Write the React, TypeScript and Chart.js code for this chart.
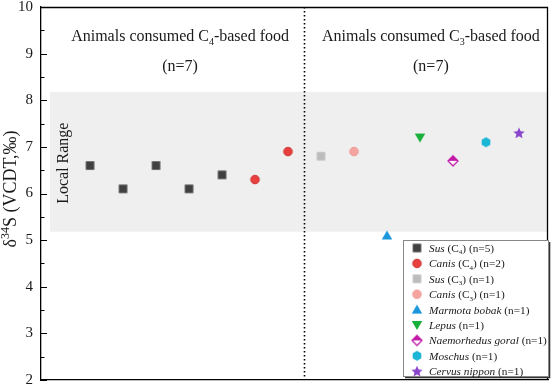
import React, { useEffect, useRef } from 'react';
import { Chart, registerables } from 'chart.js';

Chart.register(...registerables);

const SERIF = "'Liberation Serif', serif";
Chart.defaults.font.family = SERIF;

// ---- data ----
const susC4X = [1, 2, 3, 4, 5];
const susC4 = [6.6, 6.1, 6.6, 6.1, 6.4];
const canisC4X = [6, 7];
const canisC4 = [6.3, 6.9];
const susC3X = [8];
const susC3 = [6.8];
const canisC3X = [9];
const canisC3 = [6.9];
const marmotaX = [10];
const marmota = [5.1];
const lepusX = [11];
const lepus = [7.2];
const naemorhedusX = [12];
const naemorhedus = [6.7];
const moschusX = [13];
const moschus = [7.1];
const cervusX = [14];
const cervus = [7.3];

const Y_MIN = 2;
const Y_MAX = 10;
const LOCAL_RANGE = [5.18, 8.18];
const DIVIDER_X = 7.5;

type Part = { t: string; it?: boolean; sub?: boolean; sup?: boolean };

const legendNames: Part[][] = [
  [{ t: 'Sus', it: true }, { t: ' (C' }, { t: '4', sub: true }, { t: ') (n=5)' }],
  [{ t: 'Canis', it: true }, { t: ' (C' }, { t: '4', sub: true }, { t: ') (n=2)' }],
  [{ t: 'Sus', it: true }, { t: ' (C' }, { t: '3', sub: true }, { t: ') (n=1)' }],
  [{ t: 'Canis', it: true }, { t: ' (C' }, { t: '3', sub: true }, { t: ') (n=1)' }],
  [{ t: 'Marmota bobak', it: true }, { t: ' (n=1)' }],
  [{ t: 'Lepus', it: true }, { t: ' (n=1)' }],
  [{ t: 'Naemorhedus goral', it: true }, { t: ' (n=1)' }],
  [{ t: 'Moschus', it: true }, { t: ' (n=1)' }],
  [{ t: 'Cervus nippon', it: true }, { t: ' (n=1)' }],
];

const leftTitle: Part[] = [{ t: 'Animals consumed C' }, { t: '4', sub: true }, { t: '-based food' }];
const rightTitle: Part[] = [{ t: 'Animals consumed C' }, { t: '3', sub: true }, { t: '-based food' }];
const countLabel: Part[] = [{ t: '(n=7)' }];
const yTitle: Part[] = [{ t: 'δ' }, { t: '34', sup: true }, { t: 'S (VCDT,‰)' }];

function makeMarker(kind: string, fill: string, stroke: string, size: number): HTMLCanvasElement {
  const pad = 2;
  const d = Math.ceil(size + pad * 2);
  const c = document.createElement('canvas');
  c.width = d;
  c.height = d;
  const g = c.getContext('2d')!;
  const cx = d / 2;
  const cy = d / 2;
  const r = size / 2;
  g.fillStyle = fill;
  g.strokeStyle = stroke;
  g.lineWidth = 1;
  g.beginPath();
  if (kind === 'square') {
    g.rect(cx - r, cy - r, size, size);
    g.fill();
  } else if (kind === 'circle') {
    g.arc(cx, cy, r, 0, Math.PI * 2);
    g.fill();
    g.stroke();
  } else if (kind === 'triUp') {
    g.moveTo(cx, cy - r);
    g.lineTo(cx + r * 1.05, cy + r * 0.8);
    g.lineTo(cx - r * 1.05, cy + r * 0.8);
    g.closePath();
    g.fill();
  } else if (kind === 'triDown') {
    g.moveTo(cx, cy + r);
    g.lineTo(cx + r * 1.05, cy - r * 0.8);
    g.lineTo(cx - r * 1.05, cy - r * 0.8);
    g.closePath();
    g.fill();
  } else if (kind === 'diamondHalf') {
    g.moveTo(cx, cy - r);
    g.lineTo(cx + r, cy);
    g.lineTo(cx, cy + r);
    g.lineTo(cx - r, cy);
    g.closePath();
    g.fillStyle = '#ffffff';
    g.fill();
    g.lineWidth = 1.3;
    g.stroke();
    g.beginPath();
    g.moveTo(cx, cy - r);
    g.lineTo(cx + r, cy);
    g.lineTo(cx - r, cy);
    g.closePath();
    g.fillStyle = fill;
    g.fill();
  } else if (kind === 'hexagon') {
    for (let i = 0; i < 6; i++) {
      const a = Math.PI / 6 + (i * Math.PI) / 3;
      const px = cx + r * Math.cos(a);
      const py = cy + r * Math.sin(a);
      if (i === 0) g.moveTo(px, py);
      else g.lineTo(px, py);
    }
    g.closePath();
    g.fill();
  } else if (kind === 'star') {
    for (let i = 0; i < 10; i++) {
      const a = -Math.PI / 2 + (i * Math.PI) / 5;
      const rr = i % 2 === 0 ? r : r * 0.45;
      const px = cx + rr * Math.cos(a);
      const py = cy + rr * Math.sin(a) + 0.5;
      if (i === 0) g.moveTo(px, py);
      else g.lineTo(px, py);
    }
    g.closePath();
    g.fill();
  }
  return c;
}

function partsFont(p: Part, size: number) {
  const s = p.sub || p.sup ? Math.round(size * 0.64) : size;
  return `${p.it ? 'italic ' : ''}${s}px ${SERIF}`;
}

function measureRich(ctx: CanvasRenderingContext2D, parts: Part[], size: number) {
  let w = 0;
  for (const p of parts) {
    ctx.font = partsFont(p, size);
    w += ctx.measureText(p.t).width;
  }
  return w;
}

function drawRich(
  ctx: CanvasRenderingContext2D,
  parts: Part[],
  x: number,
  y: number,
  size: number,
  align: 'left' | 'center',
  color: string,
) {
  ctx.save();
  ctx.textAlign = 'left';
  ctx.textBaseline = 'alphabetic';
  ctx.fillStyle = color;
  let cx = x;
  if (align === 'center') cx = x - measureRich(ctx, parts, size) / 2;
  for (const p of parts) {
    ctx.font = partsFont(p, size);
    let dy = 0;
    if (p.sub) dy = size * 0.22;
    if (p.sup) dy = -size * 0.38;
    ctx.fillText(p.t, cx, y + dy);
    cx += ctx.measureText(p.t).width;
  }
  ctx.restore();
}

const DARK = '#404040';
const markers = {
  susC4: makeMarker('square', DARK, DARK, 8.5),
  canisC4: makeMarker('circle', '#e8403e', '#cc2a2a', 8.5),
  susC3: makeMarker('square', '#bcbcbc', '#bcbcbc', 8.5),
  canisC3: makeMarker('circle', '#f5a4a0', '#ee9590', 8.5),
  marmota: makeMarker('triUp', '#1c97dc', '#1c97dc', 10),
  lepus: makeMarker('triDown', '#17b03a', '#17b03a', 10),
  naemorhedus: makeMarker('diamondHalf', '#c21aa6', '#c21aa6', 10),
  moschus: makeMarker('hexagon', '#1bb5d6', '#1bb5d6', 10),
  cervus: makeMarker('star', '#8a44cc', '#8a44cc', 12),
};
const legendMarkers = [
  markers.susC4,
  markers.canisC4,
  markers.susC3,
  markers.canisC3,
  markers.marmota,
  markers.lepus,
  markers.naemorhedus,
  markers.moschus,
  markers.cervus,
];

function pts(xs: number[], ys: number[]) {
  return xs.map((x, i) => ({ x, y: ys[i] }));
}

const decorPlugin = {
  id: 'decor',
  beforeDatasetsDraw(chart: any) {
    const { ctx, chartArea } = chart;
    const xs = chart.scales.x;
    const ys = chart.scales.y;
    ctx.save();
    const bx0 = xs.getPixelForValue(-0.21);
    const by0 = ys.getPixelForValue(LOCAL_RANGE[1]);
    const by1 = ys.getPixelForValue(LOCAL_RANGE[0]);
    ctx.fillStyle = '#efefef';
    ctx.fillRect(bx0, by0, chartArea.right - 1 - bx0, by1 - by0);
    const dx = Math.round(xs.getPixelForValue(DIVIDER_X)) + 0.5;
    ctx.strokeStyle = '#000';
    ctx.lineWidth = 1.6;
    ctx.setLineDash([1.6, 2.4]);
    ctx.beginPath();
    ctx.moveTo(dx, chartArea.top);
    ctx.lineTo(dx, chartArea.bottom);
    ctx.stroke();
    ctx.setLineDash([]);
    const t1 = ys.getPixelForValue(9.27);
    const t2 = ys.getPixelForValue(8.63);
    drawRich(ctx, leftTitle, xs.getPixelForValue(3.73), t1, 16, 'center', '#1a1a1a');
    drawRich(ctx, countLabel, xs.getPixelForValue(3.73), t2, 16, 'center', '#1a1a1a');
    drawRich(ctx, rightTitle, xs.getPixelForValue(11.33), t1, 16, 'center', '#1a1a1a');
    drawRich(ctx, countLabel, xs.getPixelForValue(11.33), t2, 16, 'center', '#1a1a1a');
    ctx.save();
    ctx.translate(xs.getPixelForValue(0.2), ys.getPixelForValue(6.65));
    ctx.rotate(-Math.PI / 2);
    ctx.font = `16px ${SERIF}`;
    ctx.fillStyle = '#1a1a1a';
    ctx.textAlign = 'center';
    ctx.textBaseline = 'middle';
    ctx.fillText('Local Range', 0, 0);
    ctx.restore();
    ctx.restore();
  },
  afterDraw(chart: any) {
    const { ctx, chartArea } = chart;
    const ys = chart.scales.y;
    ctx.save();
    ctx.strokeStyle = '#000';
    ctx.lineWidth = 1.3;
    ctx.beginPath();
    ctx.moveTo(chartArea.left, chartArea.top + 0.5);
    ctx.lineTo(chartArea.right - 0.5, chartArea.top + 0.5);
    ctx.lineTo(chartArea.right - 0.5, chartArea.bottom);
    ctx.stroke();
    ctx.lineWidth = 1;
    for (const t of ys.ticks) {
      const py = Math.round(ys.getPixelForValue(t.value)) + 0.5;
      const major = Math.abs(t.value - Math.round(t.value)) < 1e-6;
      const len = major ? 6 : 3.5;
      ctx.beginPath();
      ctx.moveTo(chartArea.left, py);
      ctx.lineTo(chartArea.left + len, py);
      ctx.stroke();
    }
    ctx.save();
    ctx.translate(16, 189);
    ctx.rotate(-Math.PI / 2);
    drawRich(ctx, yTitle, 0, 0, 18, 'center', '#1a1a1a');
    ctx.restore();
    const lx = 403.5;
    const ly = 240.5;
    const lw = 145;
    const lh = 136;
    ctx.fillStyle = '#ffffff';
    ctx.fillRect(lx, ly, lw, lh);
    ctx.strokeStyle = '#333';
    ctx.lineWidth = 1.6;
    ctx.beginPath();
    ctx.moveTo(lx + 1.5, ly + lh + 1);
    ctx.lineTo(lx + lw + 1, ly + lh + 1);
    ctx.lineTo(lx + lw + 1, ly + 1.5);
    ctx.stroke();
    ctx.strokeStyle = '#888';
    ctx.lineWidth = 1;
    ctx.strokeRect(lx, ly, lw, lh);
    legendNames.forEach((parts, i) => {
      const cy = 248 + i * 15.4;
      const m = legendMarkers[i];
      ctx.drawImage(m, 417 - m.width / 2, cy - m.height / 2);
      drawRich(ctx, parts, 429, cy + 4, 11.3, 'left', '#1a1a1a');
    });
    ctx.restore();
  },
};

export default function App() {
  const ref = useRef<HTMLCanvasElement>(null);
  useEffect(() => {
    document.body.style.margin = '0';
    const canvas = ref.current!;
    const mk = (label: string, xs: number[], ys: number[], style: HTMLCanvasElement) => ({
      label,
      data: pts(xs, ys),
      pointStyle: style,
      pointRadius: 5,
      pointHoverRadius: 5,
      showLine: false,
    });
    const chart = new Chart(canvas, {
      type: 'scatter',
      data: {
        datasets: [
          mk('Sus (C4)', susC4X, susC4, markers.susC4),
          mk('Canis (C4)', canisC4X, canisC4, markers.canisC4),
          mk('Sus (C3)', susC3X, susC3, markers.susC3),
          mk('Canis (C3)', canisC3X, canisC3, markers.canisC3),
          mk('Marmota bobak', marmotaX, marmota, markers.marmota),
          mk('Lepus', lepusX, lepus, markers.lepus),
          mk('Naemorhedus goral', naemorhedusX, naemorhedus, markers.naemorhedus),
          mk('Moschus', moschusX, moschus, markers.moschus),
          mk('Cervus nippon', cervusX, cervus, markers.cervus),
        ] as any,
      },
      options: {
        responsive: false,
        animation: false,
        events: [],
        layout: { padding: { top: 7, right: 6, left: 0, bottom: 0 } },
        plugins: { legend: { display: false }, tooltip: { enabled: false }, title: { display: false } },
        scales: {
          x: {
            type: 'linear',
            min: -0.485,
            max: 14.879,
            ticks: { display: false },
            grid: { display: false, drawTicks: false },
            border: { display: true, color: '#000', width: 1.3 },
            afterFit: (s: any) => {
              s.height = 6;
              s.paddingLeft = 0;
              s.paddingRight = 0;
            },
          },
          y: {
            type: 'linear',
            min: Y_MIN,
            max: Y_MAX,
            ticks: {
              stepSize: 0.5,
              padding: 8,
              color: '#1a1a1a',
              font: { family: SERIF, size: 15 },
              callback: (v: any) => (Math.abs(v - Math.round(v)) < 1e-6 ? String(Math.round(v)) : ''),
            },
            grid: { display: true, drawOnChartArea: false, drawTicks: false, color: 'rgba(0,0,0,0)' },
            border: { display: true, color: '#000', width: 1.3 },
            afterFit: (s: any) => {
              s.width = 41;
              s.paddingTop = 0;
              s.paddingBottom = 0;
            },
          },
        },
      } as any,
      plugins: [decorPlugin],
    });
    return () => chart.destroy();
  }, []);
  return (
    <div style={{ width: 554, height: 386 }}>
      <canvas ref={ref} width={554} height={386} style={{ display: 'block', width: 554, height: 386 }} />
    </div>
  );
}
